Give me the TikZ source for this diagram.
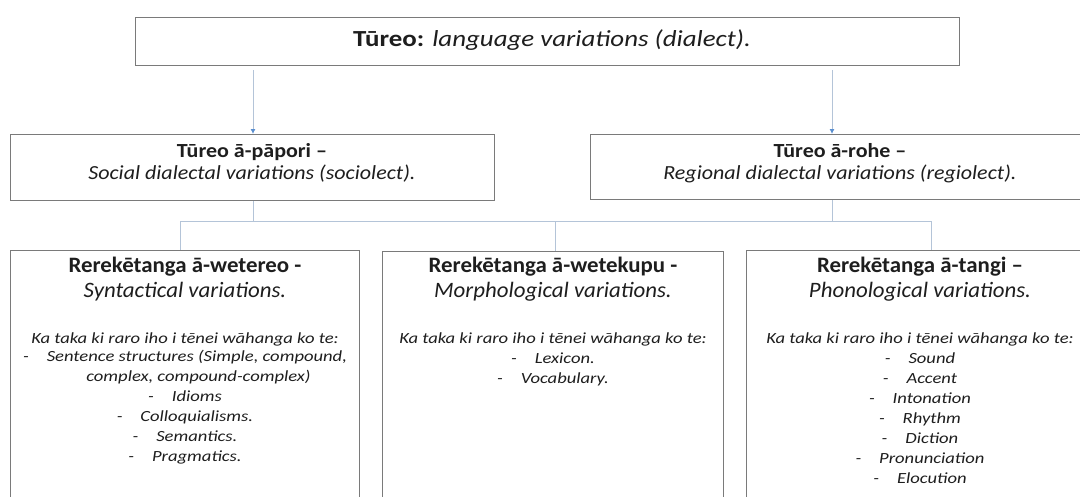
\documentclass[tikz,border=0pt]{standalone}
\usepackage{fontspec}
\setmainfont{Carlito}
\newfontfamily\topfont{Carlito}[FakeStretch=1.17]
\newfontfamily\midfont{Carlito}[FakeStretch=1.1]
\newfontfamily\titfont{Carlito}[FakeStretch=1.04]
\newfontfamily\bodyfont{Carlito}[FakeStretch=1.2]
\usetikzlibrary{arrows.meta}
\definecolor{boxline}{HTML}{7A7A7A}
\definecolor{conn}{HTML}{B4C4D8}
\definecolor{arr}{HTML}{5B8FD0}
\definecolor{ink}{HTML}{1E1E1E}
\tikzset{
  box/.style={draw=boxline, line width=1.3pt, fill=white, anchor=north west, inner sep=0pt},
  txt/.style={text=ink, align=center, inner sep=0pt, anchor=center},
  bodytxt/.style={txt, anchor=north, font=\bodyfont\itshape\fontsize{15.5}{20}\selectfont},
  tittxt/.style={txt, anchor=north, font=\titfont\fontsize{22}{25}\selectfont},
  midtxt/.style={txt, font=\midfont\fontsize{20}{22}\selectfont},
  conline/.style={draw=conn, line width=0.9pt},
  arrline/.style={draw=conn, line width=0.9pt, -{Latex[length=5pt,width=5pt,color=arr]}}
}
\newcommand{\itm}[1]{-\hspace{18pt}#1}
\begin{document}
\begin{tikzpicture}[x=1pt,y=-1pt]
\useasboundingbox (0,0) rectangle (1080,496);
\clip (0,0) rectangle (1080,496);
\fill[white] (0,0) rectangle (1080,496);

% boxes
\node[box, minimum width=824pt, minimum height=48pt] (top) at (135,17) {};
\node[box, minimum width=484pt, minimum height=66pt] (soc) at (10,134) {};
\node[box, minimum width=500pt, minimum height=65pt] (reg) at (590,134) {};
\node[box, minimum width=349pt, minimum height=300pt] (syn) at (10,250) {};
\node[box, minimum width=341pt, minimum height=300pt] (mor) at (382,251) {};
\node[box, minimum width=350pt, minimum height=300pt] (pho) at (746,250) {};

% texts
\node[txt, font=\topfont\fontsize{23}{26}\selectfont] (toptxt) at (552,40) {\textbf{Tūreo:} \textit{language variations (dialect).}};
\node[midtxt] (soctxt) at (252,163) {\textbf{Tūreo ā-pāpori –}\\ \textit{Social dialectal variations (sociolect).}};
\node[midtxt] (regtxt) at (840,163) {\textbf{Tūreo ā-rohe –}\\ \textit{Regional dialectal variations (regiolect).}};

\node[tittxt] (syntitle) at (185,257) {\textbf{Rerekētanga ā-wetereo -}\\ \textit{Syntactical variations.}};
\node[tittxt] (mortitle) at (553,257) {\textbf{Rerekētanga ā-wetekupu -}\\ \textit{Morphological variations.}};
\node[tittxt] (photitle) at (920,257) {\textbf{Rerekētanga ā-tangi –}\\ \textit{Phonological variations.}};

\node[bodytxt] (synbody) at (185,333)
 {Ka taka ki raro iho i tēnei wāhanga ko te:\\[-2pt]
  \itm{Sentence structures (Simple, compound,}\\
  \hspace*{27pt}complex, compound-complex)\\
  \itm{Idioms}\\
  \itm{Colloquialisms.}\\
  \itm{Semantics.}\\
  \itm{Pragmatics.}};
\node[bodytxt] (morbody) at (553,333)
 {Ka taka ki raro iho i tēnei wāhanga ko te:\\
  \itm{Lexicon.}\\
  \itm{Vocabulary.}};
\node[bodytxt] (phobody) at (920,333)
 {Ka taka ki raro iho i tēnei wāhanga ko te:\\
  \itm{Sound}\\
  \itm{Accent}\\
  \itm{Intonation}\\
  \itm{Rhythm}\\
  \itm{Diction}\\
  \itm{Pronunciation}\\
  \itm{Elocution}};

% connectors
\draw[arrline] (253,70) -- (soc.north -| 253,0);
\draw[arrline] (832,70) -- (reg.north -| 832,0);
\coordinate (hl) at (180,221);
\coordinate (hr) at (931,221);
\draw[conline] (soc.south -| 253,0) -- (253,221);
\draw[conline] (reg.south -| 832,0) -- (832,221);
\draw[conline] (hl) -- (hr);
\draw[conline] (hl) -- (syn.north -| hl);
\draw[conline] (555,221) -- (mor.north -| 555,0);
\draw[conline] (hr) -- (pho.north -| hr);
\end{tikzpicture}
\end{document}
